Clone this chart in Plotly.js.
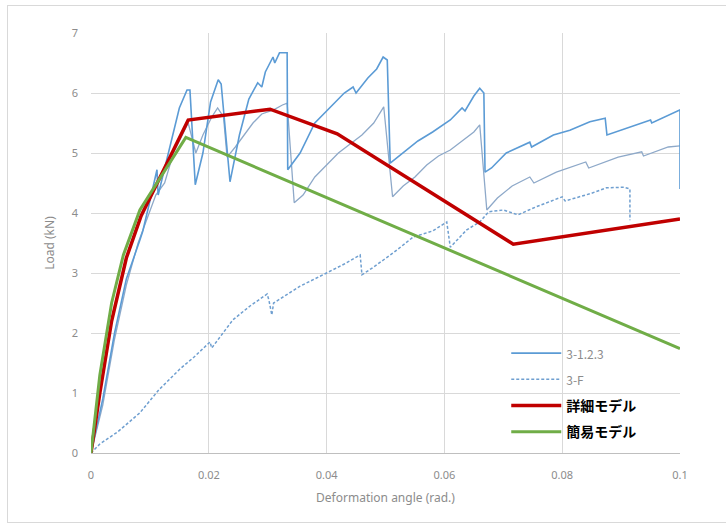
<!DOCTYPE html>
<html>
<head>
<meta charset="utf-8">
<script src="https://cdn.plot.ly/plotly-3.0.1.min.js"></script>
<style>
html,body{margin:0;padding:0;background:#fff;}
#frame{position:absolute;left:7px;top:5px;width:730px;height:516px;border:1px solid #d9d9d9;}
#chart{position:absolute;left:0;top:0;width:726px;height:526px;}
</style>
</head>
<body>
<div id="frame"></div>
<div id="chart"></div>
<script>
// 3-1.2.3 (upper test curve)
const s1x = [0, 0.002, 0.004, 0.006, 0.0083, 0.0088, 0.0100, 0.0112, 0.0114, 0.0125, 0.0138, 0.0150, 0.0163, 0.0168, 0.0177, 0.0190, 0.0203, 0.0216, 0.0221, 0.0236, 0.0252, 0.0268, 0.0283, 0.0290, 0.0296, 0.0309, 0.0312, 0.0320, 0.0333, 0.0334, 0.0355, 0.0380, 0.0410, 0.0430, 0.0445, 0.0450, 0.0470, 0.0485, 0.0496, 0.0503, 0.0508, 0.0530, 0.0555, 0.0580, 0.0610, 0.0630, 0.0635, 0.0650, 0.0660, 0.0667, 0.0669, 0.0680, 0.0705, 0.0745, 0.0748, 0.0785, 0.0813, 0.0847, 0.0873, 0.0876, 0.0915, 0.0950, 0.0952, 0.1000, 0.1000];
const s1y = [0, 0.9, 2.0, 2.9, 3.55, 3.7, 4.2, 4.72, 4.3, 4.75, 5.3, 5.75, 6.05, 6.05, 4.47, 5.0, 5.85, 6.22, 6.15, 4.52, 5.3, 5.9, 6.17, 6.1, 6.35, 6.6, 6.5, 6.67, 6.67, 4.72, 5.0, 5.5, 5.8, 6.0, 6.1, 6.0, 6.25, 6.4, 6.6, 6.55, 4.83, 5.0, 5.2, 5.35, 5.55, 5.75, 5.7, 5.95, 6.08, 6.0, 4.68, 4.75, 5.0, 5.18, 5.1, 5.3, 5.38, 5.52, 5.58, 5.3, 5.43, 5.55, 5.5, 5.72, 4.4];
// 3-1.2.3 (lower test curve)
const s2x = [0, 0.002, 0.004, 0.006, 0.008, 0.0095, 0.011, 0.0125, 0.014, 0.0155, 0.0165, 0.0178, 0.019, 0.0205, 0.0215, 0.0225, 0.0231, 0.0245, 0.026, 0.0275, 0.029, 0.031, 0.0325, 0.0333, 0.0345, 0.036, 0.038, 0.040, 0.042, 0.044, 0.046, 0.048, 0.0497, 0.0512, 0.053, 0.055, 0.057, 0.059, 0.061, 0.063, 0.065, 0.066, 0.0672, 0.069, 0.0715, 0.0745, 0.0752, 0.079, 0.084, 0.0845, 0.0895, 0.0935, 0.0938, 0.098, 0.1];
const s2y = [0, 0.8, 1.9, 2.8, 3.5, 3.9, 4.3, 4.5, 5.0, 5.3, 5.5, 5.0, 5.3, 5.6, 5.75, 5.6, 4.93, 5.1, 5.3, 5.5, 5.65, 5.72, 5.8, 5.83, 4.17, 4.3, 4.6, 4.8, 5.0, 5.15, 5.3, 5.5, 5.77, 4.27, 4.45, 4.6, 4.8, 4.95, 5.05, 5.2, 5.35, 5.47, 4.05, 4.25, 4.45, 4.6, 4.5, 4.68, 4.85, 4.75, 4.93, 5.02, 4.95, 5.1, 5.12];
// 3-F
const s3x = [0, 0.0015, 0.0045, 0.0083, 0.0115, 0.0151, 0.0175, 0.0202, 0.0205, 0.0241, 0.027, 0.0299, 0.0302, 0.0307, 0.031, 0.0355, 0.040, 0.043, 0.0457, 0.046, 0.048, 0.0515, 0.0547, 0.058, 0.0604, 0.061, 0.0638, 0.066, 0.0675, 0.070, 0.0725, 0.0755, 0.080, 0.0805, 0.085, 0.0875, 0.0905, 0.0915, 0.0915];
const s3y = [0, 0.15, 0.35, 0.67, 1.05, 1.4, 1.6, 1.85, 1.75, 2.22, 2.45, 2.65, 2.55, 2.3, 2.5, 2.78, 3.0, 3.15, 3.3, 2.97, 3.1, 3.35, 3.6, 3.7, 3.85, 3.43, 3.72, 3.85, 4.02, 4.05, 3.97, 4.1, 4.27, 4.2, 4.33, 4.42, 4.43, 4.4, 3.88];
// 詳細モデル
const detX = [0, 0.0015, 0.0035, 0.0060, 0.0085, 0.0165, 0.0304, 0.0418, 0.0717, 0.1];
const detY = [0, 1.0, 2.2, 3.25, 3.95, 5.55, 5.73, 5.32, 3.48, 3.9];
// 簡易モデル
const simX = [0, 0.0015, 0.0035, 0.0055, 0.0083, 0.0161, 0.1];
const simY = [0, 1.3, 2.5, 3.3, 4.05, 5.26, 1.74];

const names = ['3-1.2.3', '3-F', '詳細モデル', '簡易モデル'];
const xTicks = [0, 0.02, 0.04, 0.06, 0.08, 0.1];
const yTicks = [0, 1, 2, 3, 4, 5, 6, 7];

const gray = '#8c8c8c';
const traces = [
  {x: s2x, y: s2y, mode: 'lines', line: {color: '#8ea9c9', width: 1.3}, showlegend: false, hoverinfo: 'skip', legendgroup: 'z'},
  {x: s1x, y: s1y, mode: 'lines', name: '<span style="color:#8c8c8c;font-size:12px">' + names[0] + '</span>', legendgroup: 'a', line: {color: '#5b9bd5', width: 1.6}},
  {x: s3x, y: s3y, mode: 'lines', name: '<span style="color:#8c8c8c;font-size:12px">' + names[1] + '</span>', legendgroup: 'b', line: {color: '#6f9fd0', width: 1.5, dash: '3px,2px'}},
  {x: detX, y: detY, mode: 'lines', name: '<b>' + names[2] + '</b>', legendgroup: 'c', line: {color: '#c00000', width: 3.5}},
  {x: simX, y: simY, mode: 'lines', name: '<b>' + names[3] + '</b>', legendgroup: 'd', line: {color: '#70ad47', width: 3}}
];

const layout = {
  width: 726, height: 526,
  margin: {l: 91, r: 46, t: 33, b: 73},
  paper_bgcolor: 'rgba(0,0,0,0)', plot_bgcolor: '#fff',
  font: {family: '"Noto Sans", "Noto Sans CJK JP", sans-serif', size: 11, color: gray},
  xaxis: {
    range: [0, 0.1], tickvals: xTicks, ticktext: xTicks.map(String),
    showgrid: true, gridcolor: '#d9d9d9', gridwidth: 1, zeroline: false,
    showline: true, linecolor: '#bfbfbf', linewidth: 1, ticks: '',
    ticklabelstandoff: 12,
    tickfont: {size: 11, color: gray},
    title: {text: 'Deformation angle (rad.)', font: {size: 12, color: gray}, standoff: 12}
  },
  yaxis: {
    range: [0, 7], tickvals: yTicks, ticktext: yTicks.map(String),
    showgrid: true, gridcolor: '#d9d9d9', gridwidth: 1, zeroline: false,
    showline: false, ticks: '',
    ticklabelstandoff: 12,
    tickfont: {size: 11, color: gray},
    title: {text: 'Load (kN)', font: {size: 12, color: gray}, standoff: 14}
  },
  showlegend: true,
  legend: {
    x: 0.705, y: 0.275, xanchor: 'left', yanchor: 'top',
    bgcolor: 'rgba(0,0,0,0)', borderwidth: 0,
    font: {family: '"Noto Sans CJK JP", "Noto Sans", sans-serif', size: 14, color: '#000'},
    itemwidth: 50, tracegroupgap: 5, traceorder: 'grouped'
  }
};

Plotly.newPlot('chart', traces, layout, {displayModeBar: false, staticPlot: true});
</script>
</body>
</html>
